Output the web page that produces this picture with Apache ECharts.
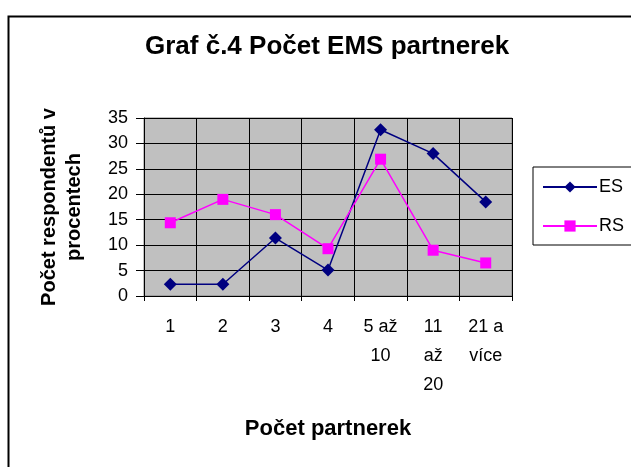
<!DOCTYPE html>
<html>
<head>
<meta charset="utf-8">
<script src="https://cdn.jsdelivr.net/npm/echarts@6/dist/echarts.min.js"></script>
<style>
  html, body { margin: 0; padding: 0; background: #fff; }
  #chart { width: 631px; height: 467px; }
</style>
</head>
<body>
<div id="chart"></div>
<script>
// kategorie a hodnoty (v procentech)
var categories = ['1', '2', '3', '4', '5 až\n10', '11\naž\n20', '21 a\nvíce'];
var esValues = [2.3, 2.3, 11.4, 5.1, 32.7, 28.0, 18.5];
var rsValues = [14.4, 19.0, 16.0, 9.3, 26.9, 9.0, 6.5];
var yTicks = { min: 0, max: 35, interval: 5 };

var font = 'Liberation Sans, Arial, sans-serif';
var myChart = echarts.init(document.getElementById('chart'));

var option = {
    animation: false,
    graphic: [{
        type: 'rect',
        left: 6,
        top: 14,
        shape: { width: 700, height: 500 },
        style: { fill: 'none', stroke: '#000', lineWidth: 2 },
        silent: true
    }],
    title: {
        text: 'Graf č.4 Počet EMS partnerek',
        left: 140,
        top: 29,
        textStyle: { fontFamily: font, fontSize: 26, fontWeight: 'bold', color: '#000' }
    },
    legend: {
        orient: 'vertical',
        left: 533,
        top: 167,
        width: 120,
        padding: [11, 40, 10, 9],
        itemGap: 21,
        itemWidth: 54,
        itemHeight: 14,
        borderColor: '#000',
        borderWidth: 1,
        backgroundColor: '#fff',
        textStyle: { fontFamily: font, fontSize: 18, color: '#000', padding: [0, 0, 0, -3] },
        data: ['ES', 'RS']
    },
    grid: {
        left: 144,
        top: 118,
        width: 368,
        height: 178,
        show: true,
        backgroundColor: '#c0c0c0',
        borderColor: '#808080',
        borderWidth: 1
    },
    xAxis: {
        type: 'category',
        data: categories,
        boundaryGap: true,
        name: 'Počet partnerek',
        nameLocation: 'middle',
        nameGap: 122,
        nameTextStyle: { fontFamily: font, fontSize: 22, fontWeight: 'bold', color: '#000' },
        axisLine: { lineStyle: { color: '#000', width: 1 } },
        axisTick: { show: true, length: 5, lineStyle: { color: '#000' } },
        axisLabel: { fontFamily: font, fontSize: 18, color: '#000', margin: 17, lineHeight: 29, interval: 0 },
        splitLine: { show: true, lineStyle: { color: '#000', width: 1 } }
    },
    yAxis: {
        type: 'value',
        min: yTicks.min,
        max: yTicks.max,
        interval: yTicks.interval,
        name: 'Počet respondentů v\nprocentech',
        nameLocation: 'middle',
        nameRotate: 90,
        nameGap: 57,
        nameTextStyle: { fontFamily: font, fontSize: 20, fontWeight: 'bold', color: '#000', lineHeight: 25 },
        axisLine: { show: true, lineStyle: { color: '#000', width: 1 } },
        axisTick: { show: true, length: 8, lineStyle: { color: '#000' } },
        axisLabel: { fontFamily: font, fontSize: 18, color: '#000', margin: 16 },
        splitLine: { show: true, lineStyle: { color: '#000', width: 1 } }
    },
    series: [
        {
            name: 'ES',
            type: 'line',
            data: esValues,
            symbol: 'diamond',
            symbolSize: 13,
            lineStyle: { color: '#000080', width: 1.5 },
            itemStyle: { color: '#000080' }
        },
        {
            name: 'RS',
            type: 'line',
            data: rsValues,
            symbol: 'rect',
            symbolSize: 11,
            lineStyle: { color: '#ff00ff', width: 1.5 },
            itemStyle: { color: '#ff00ff' }
        }
    ]
};

myChart.setOption(option);
</script>
</body>
</html>
